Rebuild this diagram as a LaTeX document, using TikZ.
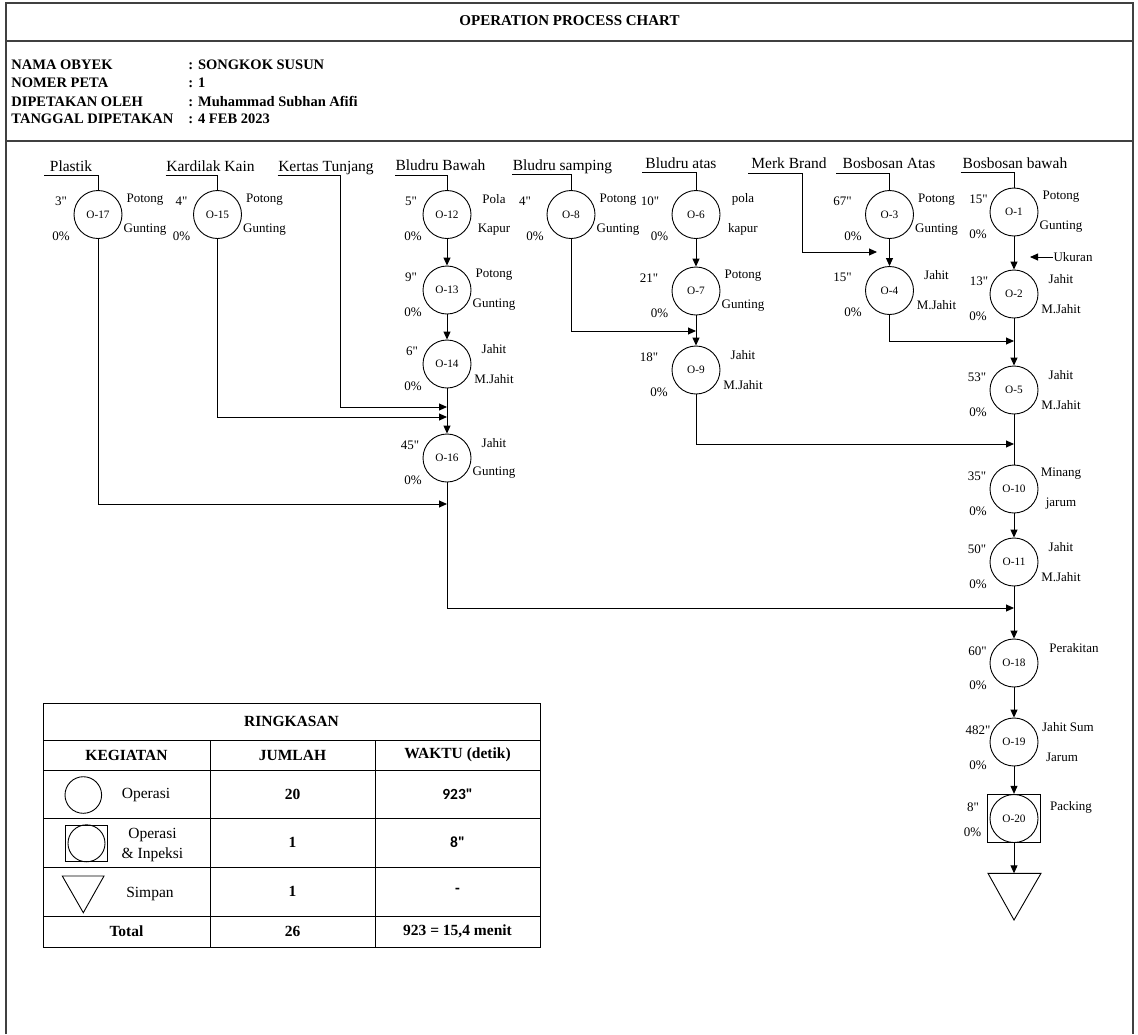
\documentclass[tikz,border=0pt]{standalone}
\usepackage{fontspec}
\setmainfont{Liberation Serif}[Ligatures=TeXOff]
\newfontfamily\calib{Carlito}[Ligatures=TeXOff]
\usetikzlibrary{arrows.meta}
\newcommand\opn[9]{%
  \node[opc] (#1) at (#2,#3) {#4};
  \node[lbl] (#1t) at ({#2-#6},{#3-13}) {#5};
  \node[lbl] (#1p) at ({#2-#7},{#3+22}) {0\%};
  \node[lbl] (#1a) at ({#2+47},{#3-15}) {#8};
  \node[lbl] (#1b) at ({#2+47},{#3+15}) {#9};
}
\begin{document}
\begin{tikzpicture}[x=1pt,y=-1pt,line width=0.9pt,
  opc/.style={circle,draw,minimum size=48pt,inner sep=0pt,font=\fontsize{11.3}{13}\selectfont},
  lbl/.style={inner sep=0pt,font=\fontsize{13}{15}\selectfont},
  src/.style={inner sep=0pt,anchor=base,font=\fontsize{15.5}{18}\selectfont},
  hdr/.style={inner sep=0pt,anchor=base west,font=\bfseries\fontsize{14.5}{17}\selectfont},
  tb/.style={inner sep=0pt,font=\bfseries\fontsize{15.5}{18}\selectfont},
  tn/.style={inner sep=0pt,align=center,font=\fontsize{15.5}{20}\selectfont},
  tc/.style={inner sep=0pt,font=\calib\bfseries\fontsize{15.5}{18}\selectfont},
  arr/.style={-{Triangle[length=8pt,width=7pt]}},
  outerframe/.style={line width=1.3pt,draw=black!75}]
\useasboundingbox (0,0) rectangle (1138,1034);

% frame
\draw[outerframe] (6,1034) -- (6,3) -- (1133,3) -- (1133,1034);
\draw[outerframe] (6,41) -- (1133,41);
\draw[outerframe] (6,141) -- (1133,141);

% header
\node[inner sep=0pt,anchor=base,font=\bfseries\fontsize{15}{18}\selectfont] (title) at (569.5,25) {OPERATION PROCESS CHART};
\node[hdr] (h1) at (11,69) {NAMA OBYEK};
\node[hdr] (h2) at (11,87.5) {NOMER PETA};
\node[hdr] (h3) at (11,106) {DIPETAKAN OLEH};
\node[hdr] (h4) at (11,123.5) {TANGGAL DIPETAKAN};
\node[hdr] (v1) at (188,69) {: SONGKOK SUSUN};
\node[hdr] (v2) at (188,87.5) {: 1};
\node[hdr] (v3) at (188,106) {: Muhammad Subhan Afifi};
\node[hdr] (v4) at (188,123.5) {: 4 FEB 2023};

% source labels
\node[src] (plastik) at (71,171.5) {Plastik};
\node[src] (kardilak) at (210.5,171.5) {Kardilak Kain};
\node[src] (kertas) at (326,171) {Kertas Tunjang};
\node[src] (bbawah) at (440.5,170.7) {Bludru Bawah};
\node[src] (bsamping) at (562.5,170.7) {Bludru samping};
\node[src] (batas) at (681,168.3) {Bludru atas};
\node[src] (merk) at (789,168.3) {Merk Brand};
\node[src] (bosatas) at (889,168.3) {Bosbosan Atas};
\node[src] (bosbawah) at (1015,168.3) {Bosbosan bawah};

\coordinate (plastikL) at (44,175);
\coordinate (kardilakL) at (165.7,175);
\coordinate (kertasL) at (277.7,175);
\coordinate (bbawahL) at (395,175);
\coordinate (bsampingL) at (512.3,174.3);
\coordinate (batasL) at (642.3,172.3);
\coordinate (merkL) at (748,173.3);
\coordinate (bosatasL) at (836,173.3);
\coordinate (bosbawahL) at (960.7,172.3);

% operations
\opn{o17}{98}{214.5}{O-17}{3"}{37}{37}{Potong}{Gunting}
\opn{o15}{217.5}{214.5}{O-15}{4"}{36}{36}{Potong}{Gunting}
\opn{o12}{447}{214.5}{O-12}{5"}{36}{34}{Pola}{Kapur}
\opn{o13}{447}{290}{O-13}{9"}{36}{34}{Potong}{Gunting}
\opn{o14}{447}{364}{O-14}{6"}{35}{34}{Jahit}{M.Jahit}
\opn{o16}{447}{458}{O-16}{45"}{37}{34}{Jahit}{Gunting}
\opn{o8}{571}{214.5}{O-8}{4"}{46}{36}{Potong}{Gunting}
\opn{o6}{696}{214.5}{O-6}{10"}{46}{36.5}{pola}{kapur}
\opn{o7}{696}{291}{O-7}{21"}{47}{36.5}{Potong}{Gunting}
\opn{o9}{696}{370}{O-9}{18"}{47}{37}{Jahit}{M.Jahit}
\opn{o3}{889.5}{214.5}{O-3}{67"}{47}{36.5}{Potong}{Gunting}
\opn{o4}{889.5}{290.5}{O-4}{15"}{47}{36.5}{Jahit}{M.Jahit}
\opn{o1}{1014}{212}{O-1}{15"}{35.5}{36}{Potong}{Gunting}
\opn{o2}{1014}{294}{O-2}{13"}{35}{36}{Jahit}{M.Jahit}
\opn{o5}{1014}{390}{O-5}{53"}{37}{36}{Jahit}{M.Jahit}
\opn{o10}{1014}{489}{O-10}{35"}{37}{36}{Minang}{jarum}
\opn{o11}{1014}{562}{O-11}{50"}{37}{36}{Jahit}{M.Jahit}

\node[opc] (o18) at (1014,663) {O-18};
\node[lbl] (o18t) at (977.5,651) {60"};
\node[lbl] (o18p) at (978,685) {0\%};
\node[lbl] (o18a) at (1074,648) {Perakitan};

\node[opc] (o19) at (1014,742) {O-19};
\node[lbl] (o19t) at (978,730.5) {482"};
\node[lbl] (o19p) at (978,765) {0\%};
\node[lbl] (o19a) at (1068,727.5) {Jahit Sum};
\node[lbl] (o19b) at (1062,757.5) {Jarum};

\node[draw,rectangle,minimum width=52.4pt,minimum height=48.4pt,inner sep=0pt] (o20sq) at (1014,818.5) {};
\node[opc] (o20) at (1014,818.5) {O-20};
\node[lbl] (o20t) at (973,807) {8"};
\node[lbl] (o20p) at (972.5,832) {0\%};
\node[lbl] (o20a) at (1071,807) {Packing};

\coordinate (trit) at (1014,873.3);
\draw (988,873.3) -- (1041,873.3) -- (1014,920) -- cycle;

\node[lbl] (ukuran) at (1073,257) {Ukuran};

% junction coordinates
\coordinate (j79) at (696,331);
\coordinate (j1416a) at (447,407);
\coordinate (j1416b) at (447,417);
\coordinate (j16) at (447,504);
\coordinate (j25) at (1014,341);
\coordinate (j510) at (1014,444);
\coordinate (j1118) at (1014,608);
\coordinate (jmerk) at (877,252);
\coordinate (kertasD) at (340.7,407);
\coordinate (merkD) at (802,252);
\coordinate (ukuranT) at (1030,257);

% source lines
\draw (plastikL) -| (o17.north);
\draw (kardilakL) -| (o15.north);
\draw (bbawahL) -| (o12.north);
\draw (bsampingL) -| (o8.north);
\draw (batasL) -| (o6.north);
\draw (bosatasL) -| (o3.north);
\draw (bosbawahL) -| (o1.north);
\draw[arr] (kertasL) -| (kertasD) -- (j1416a);
\draw[arr] (merkL) -| (merkD) -- (jmerk);
\draw[arr] (ukuran.west) -- (ukuranT);

% flow
\draw[arr] (o12) -- (o13);
\draw[arr] (o13) -- (o14);
\draw[arr] (o14) -- (o16);
\draw[arr] (o15.south) |- (j1416b);
\draw[arr] (o17.south) |- (j16);
\draw[arr] (o16.south) |- (j1118);
\draw[arr] (o6) -- (o7);
\draw[arr] (o7) -- (o9);
\draw[arr] (o8.south) |- (j79);
\draw[arr] (o9.south) |- (j510);
\draw[arr] (o3) -- (o4);
\draw[arr] (o4.south) |- (j25);
\draw[arr] (o1) -- (o2);
\draw[arr] (o2) -- (o5);
\draw (o5) -- (o10);
\draw[arr] (o10) -- (o11);
\draw[arr] (o11) -- (o18);
\draw[arr] (o18) -- (o19);
\draw[arr] (o19) -- (o20sq.north);
\draw[arr] (o20sq.south) -- (trit);

% summary table
\draw (43,703) rectangle (540,947);
\foreach \yy in {740,770,818,867,916} \draw (43,\yy) -- (540,\yy);
\draw (210,740) -- (210,947);
\draw (375,740) -- (375,947);
\node[tb] (ring) at (291.5,721.5) {RINGKASAN};
\node[tb] (keg) at (126.5,755) {KEGIATAN};
\node[tb] (jum) at (292.5,755) {JUMLAH};
\node[tb] (wak) at (457.5,755) {WAKTU (detik)};

\node[circle,draw,minimum size=36.6pt,inner sep=0pt] (symop) at (83.3,795) {};
\node[tn] (top) at (146,795) {Operasi};
\node[tb] (n1) at (292.5,794) {20};
\node[tc] (w1) at (457.5,794) {923"};

\node[draw,rectangle,minimum width=41.6pt,minimum height=36.7pt,inner sep=0pt] (symsq) at (86.5,843.3) {};
\node[circle,draw,minimum size=37pt,inner sep=0pt] (symoi) at (86.5,843.3) {};
\node[tn] (toi) at (152.5,845) {Operasi\\\& Inpeksi};
\node[tb] (n2) at (292.5,842) {1};
\node[tc] (w2) at (457.5,842) {8"};

\draw (62.3,876) -- (104,876) -- (83.3,912.7) -- cycle;
\node[tn] (tsim) at (150,894) {Simpan};
\node[tb] (n3) at (292.5,891) {1};
\node[tc] (w3) at (457.5,891) {-};

\node[tb] (ttot) at (126.5,931) {Total};
\node[tb] (n4) at (292.5,931) {26};
\node[tb] (w4) at (457.5,931) {923 = 15,4 menit};
\end{tikzpicture}
\end{document}
